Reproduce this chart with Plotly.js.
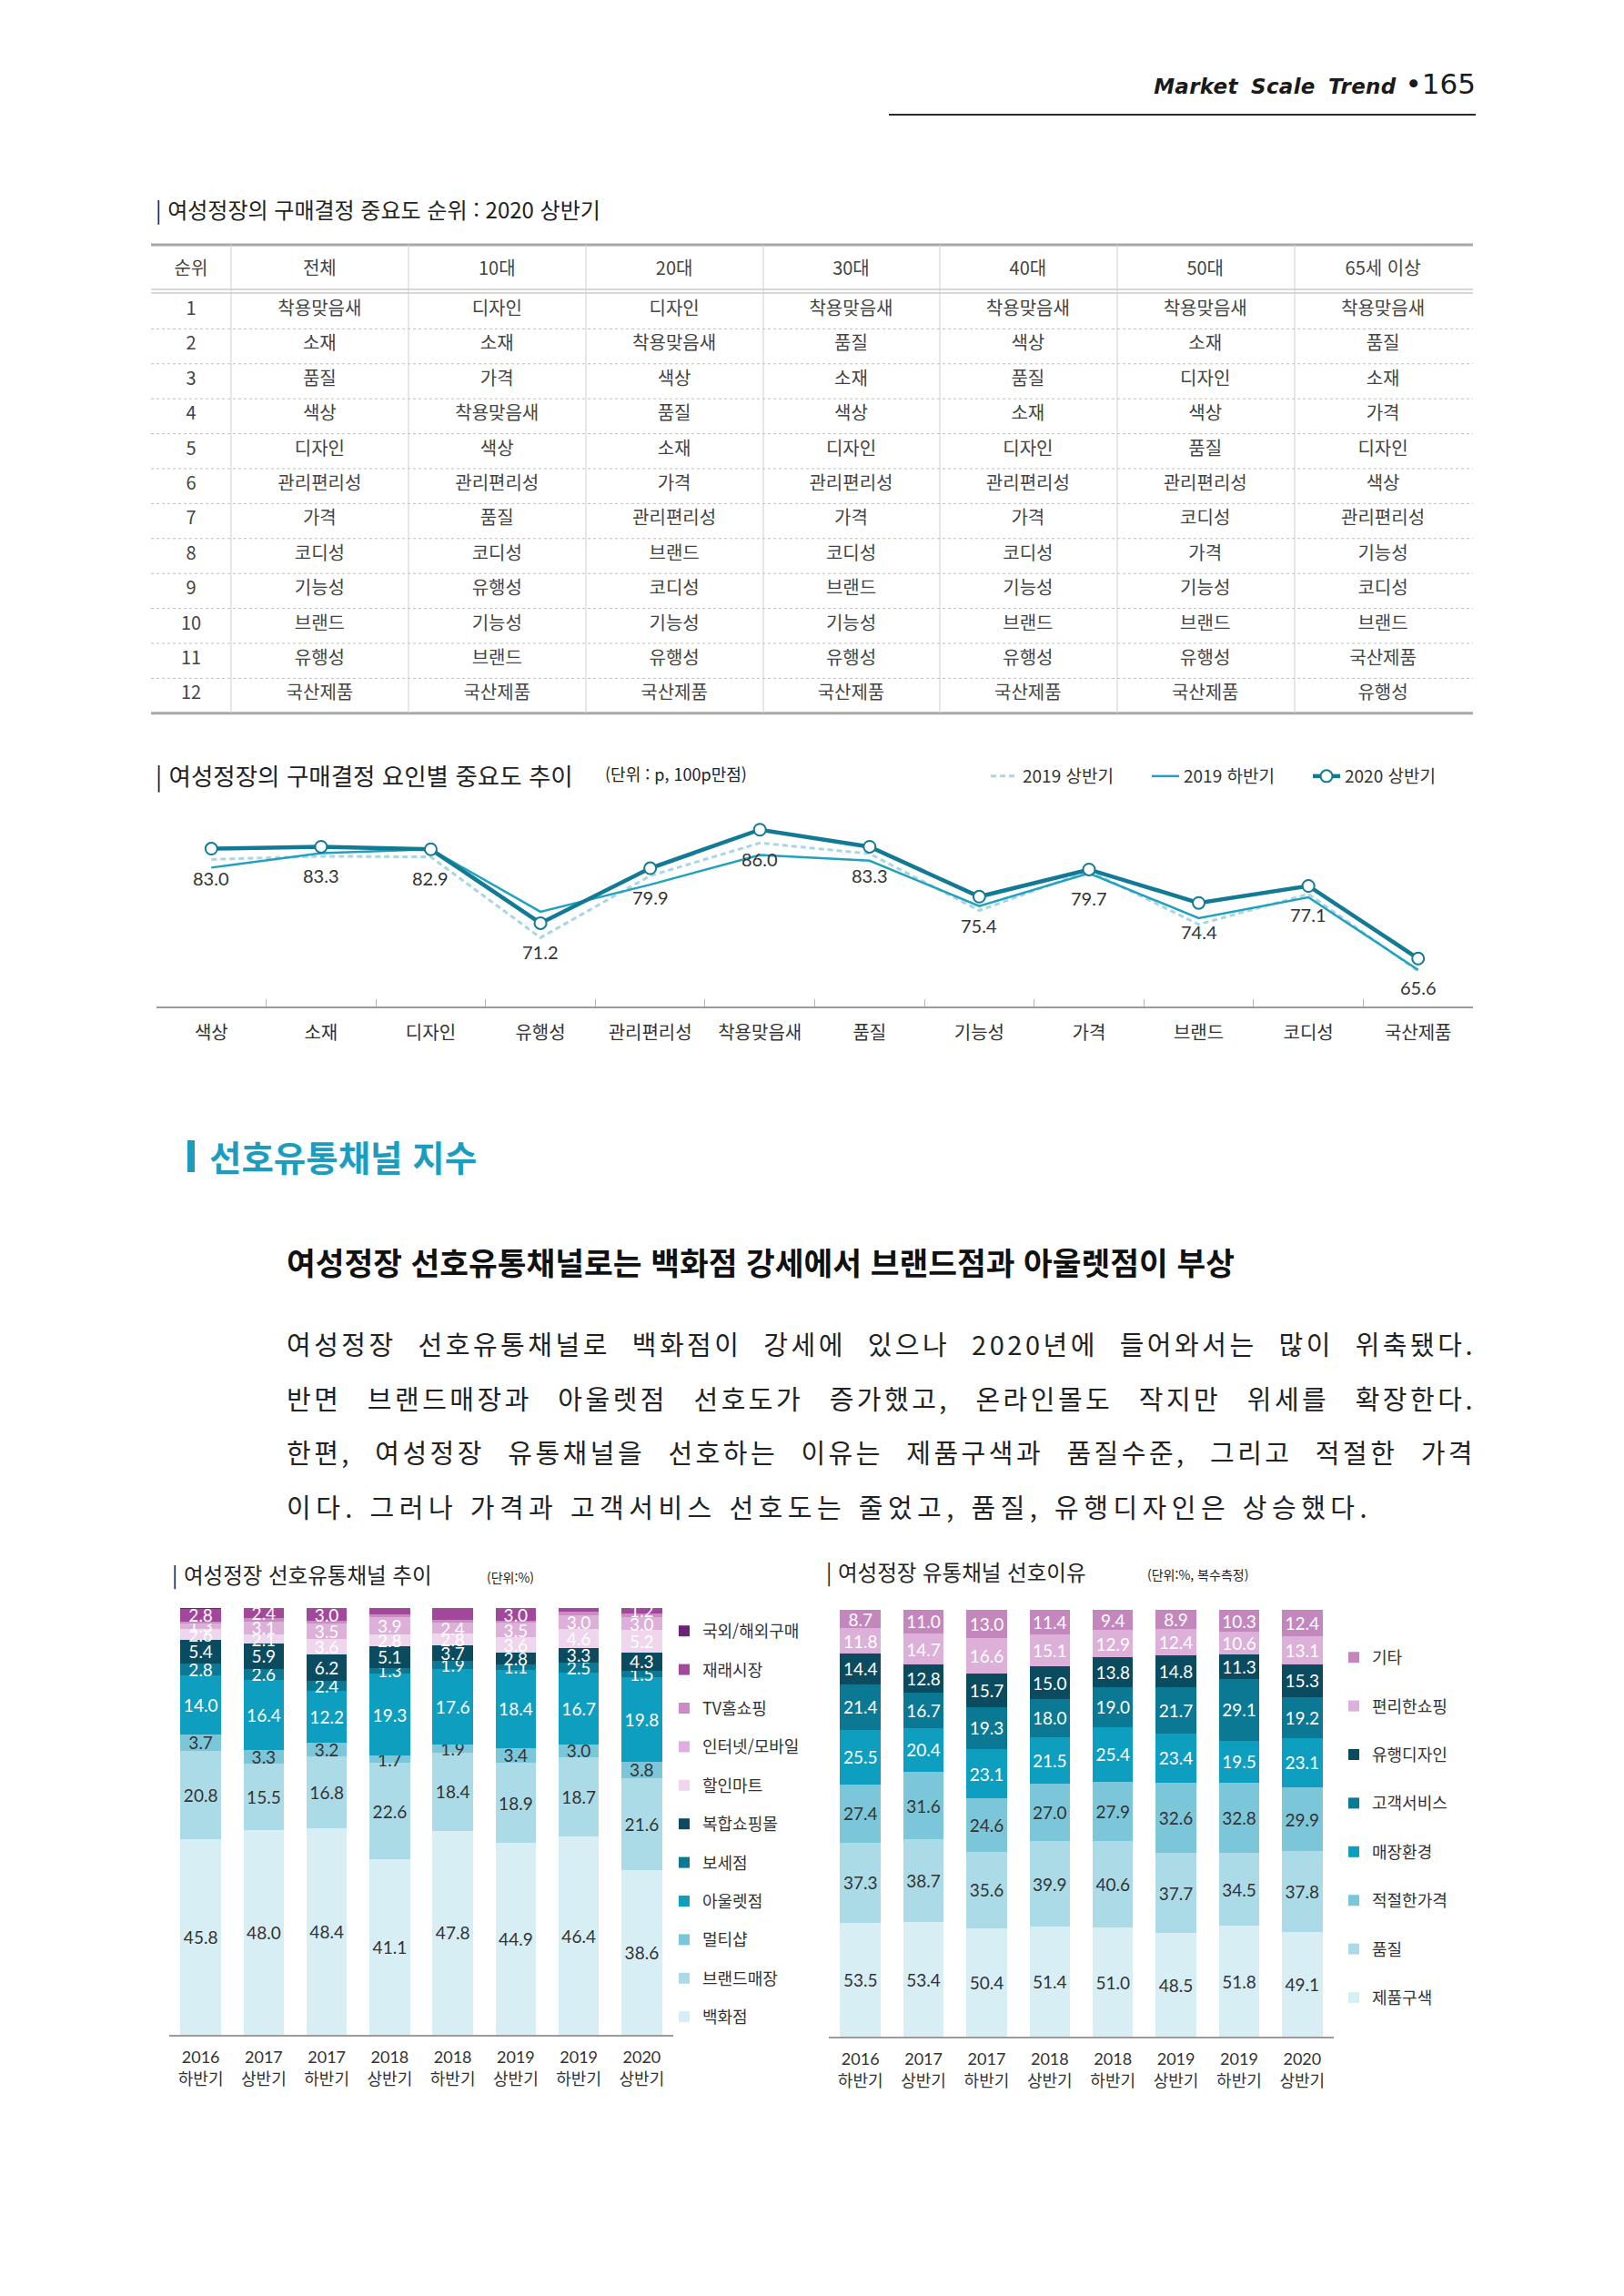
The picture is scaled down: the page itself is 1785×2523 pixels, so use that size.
<!DOCTYPE html>
<html lang="ko">
<head>
<meta charset="utf-8">
<title>Market Scale Trend 165</title>
<script src="https://cdn.plot.ly/plotly-3.0.1.min.js"></script>
<style>
  body { margin: 0; background: #fff; }
  #page { position: relative; width: 1785px; height: 2523px; overflow: hidden; background: #fff;
          font-family: "Noto Sans CJK KR", "Noto Sans", sans-serif; }
  .abs { position: absolute; }
  .running-head { right: 163px; top: 74px; display: flex; align-items: baseline; color: #1a1a1a;
                  font-family: "DejaVu Sans", sans-serif; white-space: nowrap; }
  .running-head .name { font-weight: bold; font-style: italic; font-size: 23px; letter-spacing: 0.3px; word-spacing: 6px; }
  .running-head .folio { font-size: 31px; margin-left: 10px; }
  .head-rule { left: 977px; top: 125px; width: 645px; height: 2px; background: #2a2a2a; }
  .section-mark { left: 206px; top: 1253px; width: 8px; height: 35px; background: #1c9dbf; }
  .section-title { left: 230px; top: 1244px; font-size: 38.5px; font-weight: bold; color: #1c9dbf;
                   line-height: 52px; white-space: nowrap; }
  .lead { left: 315px; top: 1362px; font-size: 34.5px; font-weight: bold; color: #111; line-height: 48px; white-space: nowrap; }
  .body-line { left: 315px; width: 1307px; font-size: 29px; color: #222; letter-spacing: 3.5px; line-height: 40px;
               white-space: nowrap; text-align: justify; text-align-last: justify; }
  .body-line.last { text-align: left; text-align-last: left; letter-spacing: 5.5px; }
</style>
</head>
<body>
<div id="page">
  <div class="abs running-head"><span class="name">Market Scale Trend</span><span class="folio">•165</span></div>
  <div class="abs head-rule"></div>

  <div id="rankTable"></div>
  <div id="trendChart"></div>

  <div class="abs section-mark"></div>
  <div class="abs section-title">선호유통채널 지수</div>
  <div class="abs lead">여성정장 선호유통채널로는 백화점 강세에서 브랜드점과 아울렛점이 부상</div>
  <div class="abs body-line" style="top:1456px">여성정장 선호유통채널로 백화점이 강세에 있으나 2020년에 들어와서는 많이 위축됐다.</div>
  <div class="abs body-line" style="top:1516px">반면 브랜드매장과 아울렛점 선호도가 증가했고, 온라인몰도 작지만 위세를 확장한다.</div>
  <div class="abs body-line" style="top:1575px">한편, 여성정장 유통채널을 선호하는 이유는 제품구색과 품질수준, 그리고 적절한 가격</div>
  <div class="abs body-line last" style="top:1635px">이다. 그러나 가격과 고객서비스 선호도는 줄었고, 품질, 유행디자인은 상승했다.</div>

  <div id="channelChart"></div>
  <div id="reasonChart"></div>
</div>

<script>
// ---------------- data ----------------

// Purchase-decision ranking, 2020 first half
const rankHeaders = ['순위', '전체', '10대', '20대', '30대', '40대', '50대', '65세 이상'];
const rankPositions = ['1', '2', '3', '4', '5', '6', '7', '8', '9', '10', '11', '12'];
const rankAll  = ['착용맞음새', '소재', '품질', '색상', '디자인', '관리편리성', '가격', '코디성', '기능성', '브랜드', '유행성', '국산제품'];
const rankTeens = ['디자인', '소재', '가격', '착용맞음새', '색상', '관리편리성', '품질', '코디성', '유행성', '기능성', '브랜드', '국산제품'];
const rank20s  = ['디자인', '착용맞음새', '색상', '품질', '소재', '가격', '관리편리성', '브랜드', '코디성', '기능성', '유행성', '국산제품'];
const rank30s  = ['착용맞음새', '품질', '소재', '색상', '디자인', '관리편리성', '가격', '코디성', '브랜드', '기능성', '유행성', '국산제품'];
const rank40s  = ['착용맞음새', '색상', '품질', '소재', '디자인', '관리편리성', '가격', '코디성', '기능성', '브랜드', '유행성', '국산제품'];
const rank50s  = ['착용맞음새', '소재', '디자인', '색상', '품질', '관리편리성', '코디성', '가격', '기능성', '브랜드', '유행성', '국산제품'];
const rank65up = ['착용맞음새', '품질', '소재', '가격', '디자인', '색상', '관리편리성', '기능성', '코디성', '브랜드', '국산제품', '유행성'];

// Importance score by factor (p, out of 100)
const factorNames = ['색상', '소재', '디자인', '유행성', '관리편리성', '착용맞음새', '품질', '기능성', '가격', '브랜드', '코디성', '국산제품'];
const score2019H1 = [81.3, 81.8, 81.7, 68.9, 78.7, 83.9, 82.2, 73.2, 79.5, 71.0, 75.8, 63.6];
const score2019H2 = [80.0, 82.3, 82.9, 73.0, 77.3, 82.0, 81.1, 73.9, 79.1, 72.0, 75.3, 63.8];
const score2020H1 = [83.0, 83.3, 82.9, 71.2, 79.9, 86.0, 83.3, 75.4, 79.7, 74.4, 77.1, 65.6];

// Survey periods
const periodYears  = ['2016', '2017', '2017', '2018', '2018', '2019', '2019', '2020'];
const periodHalves = ['하반기', '상반기', '하반기', '상반기', '하반기', '상반기', '하반기', '상반기'];

// Preferred channel share (%)
const chDepartment = [45.8, 48.0, 48.4, 41.1, 47.8, 44.9, 46.4, 38.6];
const chBrandShop  = [20.8, 15.5, 16.8, 22.6, 18.4, 18.9, 18.7, 21.6];
const chMultiShop  = [3.7, 3.3, 3.2, 1.7, 1.9, 3.4, 3.0, 3.8];
const chOutlet     = [14.0, 16.4, 12.2, 19.3, 17.6, 18.4, 16.7, 19.8];
const chBoutique   = [2.8, 2.6, 2.4, 1.3, 1.9, 1.1, 2.5, 1.5];
const chMall       = [5.4, 5.9, 6.2, 5.1, 3.7, 2.8, 3.3, 4.3];
const chDiscount   = [2.6, 2.1, 3.6, 2.8, 2.8, 3.6, 4.6, 5.2];
const chOnline     = [1.3, 3.1, 3.5, 3.9, 2.4, 3.5, 3.0, 3.0];
const chTvShopping = [0.5, 0.7, 0.7, 0.7, 0.8, 0.4, 1.0, 1.0];
const chMarket     = [2.8, 2.4, 3.0, 1.5, 2.7, 3.0, 0.8, 1.2];
const chOverseas   = [0.3, 0.0, 0.0, 0.0, 0.0, 0.0, 0.0, 0.0];

// Reasons for channel preference (%, multiple response)
const rsAssortment = [53.5, 53.4, 50.4, 51.4, 51.0, 48.5, 51.8, 49.1];
const rsQuality    = [37.3, 38.7, 35.6, 39.9, 40.6, 37.7, 34.5, 37.8];
const rsPrice      = [27.4, 31.6, 24.6, 27.0, 27.9, 32.6, 32.8, 29.9];
const rsStoreEnv   = [25.5, 20.4, 23.1, 21.5, 25.4, 23.4, 19.5, 23.1];
const rsService    = [21.4, 16.7, 19.3, 18.0, 19.0, 21.7, 29.1, 19.2];
const rsTrend      = [14.4, 12.8, 15.7, 15.0, 13.8, 14.8, 11.3, 15.3];
const rsConvenient = [11.8, 14.7, 16.6, 15.1, 12.9, 12.4, 10.6, 13.1];
const rsOther      = [8.7, 11.0, 13.0, 11.4, 9.4, 8.9, 10.3, 12.4];

// ---------------- helpers ----------------
const FONT_KR  = '"Noto Sans CJK KR", "Noto Sans", sans-serif';
const FONT_NUM = 'Lato, "Noto Sans CJK KR", sans-serif';
const CONFIG = { staticPlot: true, displayModeBar: false };

// Place a chart div on the page and return its margins plus page-pixel -> paper converters
function makeFrame(id, box, plot) {
  const el = document.getElementById(id);
  Object.assign(el.style, { position: 'absolute', left: box.x + 'px', top: box.y + 'px',
                            width: box.w + 'px', height: box.h + 'px' });
  return {
    el, W: box.w, H: box.h,
    margin: { l: plot.x0 - box.x, r: box.x + box.w - plot.x1, t: plot.y0 - box.y, b: box.y + box.h - plot.y1, pad: 0 },
    X: px => (px - plot.x0) / (plot.x1 - plot.x0),
    Y: py => (plot.y1 - py) / (plot.y1 - plot.y0)
  };
}
function baseLayout(f) {
  return { width: f.W, height: f.H, margin: f.margin, paper_bgcolor: 'rgba(0,0,0,0)', plot_bgcolor: 'rgba(0,0,0,0)',
           font: { family: FONT_KR, color: '#333' }, hovermode: false, showlegend: true };
}
function note(f, px, py, text, size, extra) {
  return Object.assign({ xref: 'paper', yref: 'paper', x: f.X(px), y: f.Y(py), xanchor: 'left', yanchor: 'middle',
                         text, showarrow: false, font: { family: FONT_KR, size, color: '#222' } }, extra || {});
}

// ---------------- ranking table ----------------
(function () {
  const f = makeFrame('rankTable', { x: 160, y: 200, w: 1470, h: 600 }, { x0: 160, x1: 1630, y0: 200, y1: 800 });
  const left = 166, right = 1619;
  const rule = 269;          // heavy top rule
  const headTop = 279, headH = 44, rowH = 38.4;
  const colW = [88, 195, 195, 195, 194, 195, 195, 196];
  const bodyTop = headTop + headH;
  const bottom = bodyTop + rowH * rankPositions.length;
  const clear = { color: 'rgba(0,0,0,0)', width: 1 };

  const trace = {
    type: 'table',
    domain: { x: [f.X(left), f.X(right)], y: [f.Y(bottom), f.Y(headTop)] },
    columnwidth: colW,
    header: { values: rankHeaders, height: headH, align: 'center', fill: { color: 'rgba(0,0,0,0)' }, line: clear,
              font: { family: FONT_KR, size: 20, color: '#444' } },
    cells: { values: [rankPositions, rankAll, rankTeens, rank20s, rank30s, rank40s, rank50s, rank65up],
             height: rowH, align: 'center', fill: { color: 'rgba(0,0,0,0)' }, line: clear,
             font: { family: FONT_KR, size: 20, color: '#444' } }
  };

  const shapes = [];
  const hline = (py, color, width, dash) => shapes.push({ type: 'line', xref: 'paper', yref: 'paper',
    x0: f.X(left), x1: f.X(right), y0: f.Y(py), y1: f.Y(py), line: { color, width, dash: dash || 'solid' } });
  hline(rule, '#a8a8a8', 3);
  hline(bodyTop - 5, '#b0b0b0', 1.2);
  hline(bodyTop - 1, '#b0b0b0', 1.2);
  for (let k = 1; k < rankPositions.length; k++) hline(bodyTop + k * rowH, '#bdbdbd', 1, 'dot');
  hline(bottom, '#a8a8a8', 3);
  let cx = left;
  for (let c = 0; c < colW.length - 1; c++) {
    cx += colW[c];
    shapes.push({ type: 'line', xref: 'paper', yref: 'paper', x0: f.X(cx), x1: f.X(cx), y0: f.Y(rule), y1: f.Y(bottom),
                  line: { color: '#cfcfcf', width: 1 } });
  }

  const layout = Object.assign(baseLayout(f), {
    showlegend: false, shapes,
    annotations: [note(f, 169, 229, '| 여성정장의 구매결정 중요도 순위 : 2020 상반기', 24)]
  });
  Plotly.newPlot(f.el, [trace], layout, CONFIG);
})();

// ---------------- importance trend line chart ----------------
(function () {
  const f = makeFrame('trendChart', { x: 150, y: 820, w: 1490, h: 340 }, { x0: 172, x1: 1619, y0: 884, y1: 1106 });
  const traces = [
    { type: 'scatter', mode: 'lines', name: '2019 상반기', x: factorNames, y: score2019H1,
      line: { color: '#a9d6e4', width: 3, dash: '6px,4px' } },
    { type: 'scatter', mode: 'lines', name: '2019 하반기', x: factorNames, y: score2019H2,
      line: { color: '#1fa2bf', width: 2.5 } },
    { type: 'scatter', mode: 'lines+markers', name: '2020 상반기', x: factorNames, y: score2020H1,
      line: { color: '#127a94', width: 4.5 },
      marker: { symbol: 'circle', size: 13, color: '#fff', line: { color: '#127a94', width: 2 } } }
  ];
  const valueNotes = score2020H1.map((v, i) => ({
    x: factorNames[i], y: v, xref: 'x', yref: 'y', text: v.toFixed(1), showarrow: false, yshift: -32,
    font: { family: FONT_NUM, size: 20, color: '#333' }
  }));
  const layout = Object.assign(baseLayout(f), {
    xaxis: { type: 'category', range: [-0.5, factorNames.length - 0.5], showline: true, linecolor: '#9b9b9b', linewidth: 1.5,
             ticks: 'inside', tickson: 'boundaries', ticklen: 8, tickcolor: '#b5b5b5', tickwidth: 1,
             tickfont: { family: FONT_KR, size: 20, color: '#333' }, ticklabelstandoff: 10,
             showgrid: false, zeroline: false },
    yaxis: { range: [58, 90], visible: false },
    legend: { orientation: 'h', x: f.X(1084), xanchor: 'left', y: f.Y(853), yanchor: 'middle',
              entrywidth: 132, entrywidthmode: 'pixels',
              font: { family: FONT_KR, size: 19, color: '#333' }, bgcolor: 'rgba(0,0,0,0)' },
    annotations: [
      note(f, 169, 852, '| 여성정장의 구매결정 요인별 중요도 추이', 26.5),
      note(f, 663, 850, '(단위 : p, 100p만점)', 18)
    ].concat(valueNotes)
  });
  Plotly.newPlot(f.el, traces, layout, CONFIG);
})();

// ---------------- stacked bar helpers ----------------
const periods = periodYears.map((y, i) => y + '<br>' + periodHalves[i]);

function stackTrace(s, i, all) {
  return {
    type: 'bar', name: s.name, x: periods, y: s.values,
    marker: { color: s.color, line: { width: 0 } },
    text: s.values.map((v, k) => (s.hide || (s.hideAt && s.hideAt.includes(k))) ? '' : v.toFixed(1)),
    textposition: 'inside', insidetextanchor: 'middle', textangle: 0, constraintext: 'none',
    textfont: { family: FONT_NUM, size: 19, color: s.ink },
    legendgroup: 'g' + i, legendrank: (all.length - i) * 10   // top of the stack listed first
  };
}
function stackLayout(f, legendTop, gap) {
  return Object.assign(baseLayout(f), {
    barmode: 'stack', bargap: 0.36,
    xaxis: { type: 'category', range: [-0.5, periods.length - 0.5], showline: true, linecolor: '#9b9b9b', linewidth: 1.5,
             ticks: '', tickfont: { family: FONT_NUM, size: 18, color: '#333' }, ticklabelstandoff: 8,
             showgrid: false, zeroline: false },
    yaxis: { range: [0, 100], visible: false },
    legend: { x: f.X(legendTop.x), xanchor: 'left', y: f.Y(legendTop.y), yanchor: 'top',
              traceorder: 'grouped', tracegroupgap: gap,
              font: { family: FONT_KR, size: 18, color: '#333' }, bgcolor: 'rgba(0,0,0,0)' }
  });
}

// ---------------- preferred channel chart ----------------
(function () {
  const f = makeFrame('channelChart', { x: 150, y: 1700, w: 760, h: 620 }, { x0: 186, x1: 740, y0: 1767, y1: 2236 });
  const series = [
    { name: '백화점',       values: chDepartment, color: '#d8eef5', ink: '#333' },
    { name: '브랜드매장',   values: chBrandShop,  color: '#acdbe8', ink: '#333' },
    { name: '멀티샵',       values: chMultiShop,  color: '#7cc6da', ink: '#333' },
    { name: '아울렛점',     values: chOutlet,     color: '#0e9ec0', ink: '#fff' },
    { name: '보세점',       values: chBoutique,   color: '#0b7994', ink: '#fff' },
    { name: '복합쇼핑몰',   values: chMall,       color: '#0b4b5f', ink: '#fff' },
    { name: '할인마트',     values: chDiscount,   color: '#efd6ec', ink: '#fff' },
    { name: '인터넷/모바일', values: chOnline,    color: '#dcb0d8', ink: '#fff' },
    { name: 'TV홈쇼핑',     values: chTvShopping, color: '#c98cc3', ink: '#fff', hide: true },
    { name: '재래시장',     values: chMarket,     color: '#a3479c', ink: '#fff', hideAt: [3, 4, 6] },
    { name: '국외/해외구매', values: chOverseas,  color: '#6c2276', ink: '#fff', hide: true }
  ];
  const layout = stackLayout(f, { x: 732, y: 1774 }, 16);
  layout.annotations = [
    note(f, 187, 1730, '| 여성정장 선호유통채널 추이', 23.5),
    note(f, 533, 1733, '(단위:%)', 14)
  ];
  Plotly.newPlot(f.el, series.map(stackTrace), layout, CONFIG);
})();

// ---------------- channel preference reasons chart ----------------
(function () {
  const f = makeFrame('reasonChart', { x: 880, y: 1700, w: 760, h: 620 }, { x0: 911, x1: 1466, y0: 1769, y1: 2238 });
  const series = [
    { name: '제품구색',   values: rsAssortment, color: '#d8eef5', ink: '#333' },
    { name: '품질',       values: rsQuality,    color: '#acdbe8', ink: '#333' },
    { name: '적절한가격', values: rsPrice,      color: '#7cc6da', ink: '#333' },
    { name: '매장환경',   values: rsStoreEnv,   color: '#0e9ec0', ink: '#fff' },
    { name: '고객서비스', values: rsService,    color: '#0b7994', ink: '#fff' },
    { name: '유행디자인', values: rsTrend,      color: '#0b4b5f', ink: '#fff' },
    { name: '편리한쇼핑', values: rsConvenient, color: '#dcb0d8', ink: '#fff' },
    { name: '기타',       values: rsOther,      color: '#c387be', ink: '#fff' }
  ];
  const layout = stackLayout(f, { x: 1468, y: 1803 }, 27);
  layout.barnorm = 'percent';
  layout.annotations = [
    note(f, 906, 1727, '| 여성정장 유통채널 선호이유', 23.5),
    note(f, 1259, 1730, '(단위:%, 복수측정)', 14)
  ];
  Plotly.newPlot(f.el, series.map(stackTrace), layout, CONFIG);
})();
</script>
</body>
</html>
